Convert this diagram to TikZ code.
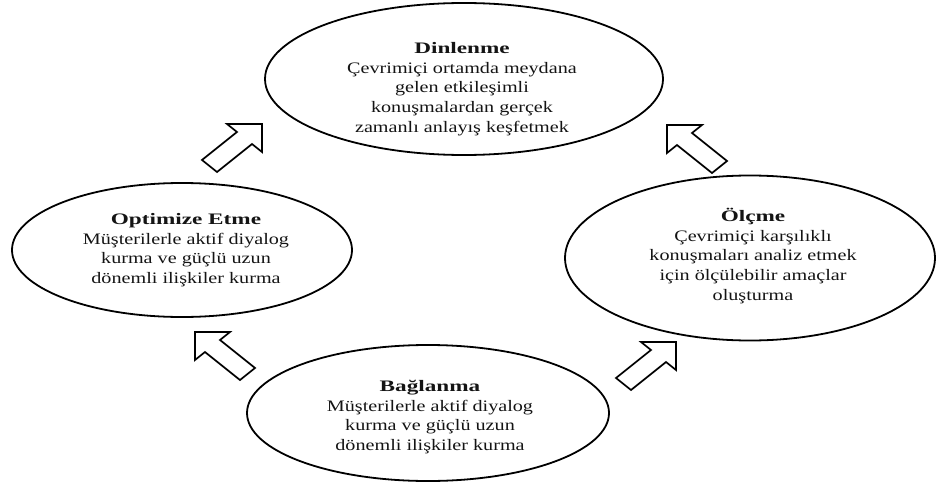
\documentclass[tikz,border=0pt]{standalone}
\usepackage{fontspec}
\setmainfont{Liberation Serif}[FakeStretch=1.26]
\newfontfamily\headfont{Liberation Serif}[FakeStretch=1.45]
\usetikzlibrary{shapes.geometric}

\begin{document}
\begin{tikzpicture}[x=1pt,y=-1pt,
  bubble/.style={draw=black, ellipse, line width=1.8pt, inner sep=0pt},
  bubtext/.style={align=center, font=\fontsize{16}{19.6}\selectfont, inner sep=0pt, text=black!92},
  blockarrow/.pic={
    \draw[line width=1.7pt, draw=black, line join=miter]
      (0,0) -- (-19.8,19.8) -- (-19.8,8.5) -- (-59.4,8.5)
      -- (-59.4,-8.5) -- (-19.8,-8.5) -- (-19.8,-19.8) -- cycle;}]
\useasboundingbox (0,0) rectangle (936,484);

% the four stages of the cycle
\node[bubble, minimum width=398pt, minimum height=152pt] (listen) at (464,79) {};
\node[bubble, minimum width=340pt, minimum height=134pt] (optim) at (182,250) {};
\node[bubble, minimum width=370pt, minimum height=165pt] (measure) at (750,258) {};
\node[bubble, minimum width=362pt, minimum height=136pt] (connect) at (428,413) {};

\node[bubtext] (listentxt) at (462,89) {{\headfont\bfseries Dinlenme}\\
  Çevrimiçi ortamda meydana\\ gelen etkileşimli\\ konuşmalardan gerçek\\ zamanlı anlayış keşfetmek};
\node[bubtext] (optimtxt) at (186,250) {{\headfont\bfseries Optimize Etme}\\
  Müşterilerle aktif diyalog\\ kurma ve güçlü uzun\\ dönemli ilişkiler kurma};
\node[bubtext] (measuretxt) at (753,256) {{\headfont\bfseries Ölçme}\\
  Çevrimiçi karşılıklı\\ konuşmaları analiz etmek\\ için ölçülebilir amaçlar\\ oluşturma};
\node[bubtext] (connecttxt) at (430,417) {{\headfont\bfseries Bağlanma}\\
  Müşterilerle aktif diyalog\\ kurma ve güçlü uzun\\ dönemli ilişkiler kurma};

% block arrows running round the cycle
\pic[xscale=1.25, rotate=45] (arrtl) at (262,124) {blockarrow};
\pic[xscale=1.25, rotate=135] (arrtr) at (667,125) {blockarrow};
\pic[xscale=1.25, rotate=135] (arrbl) at (195,332) {blockarrow};
\pic[xscale=1.25, rotate=45] (arrbr) at (676,342) {blockarrow};
\end{tikzpicture}
\end{document}
